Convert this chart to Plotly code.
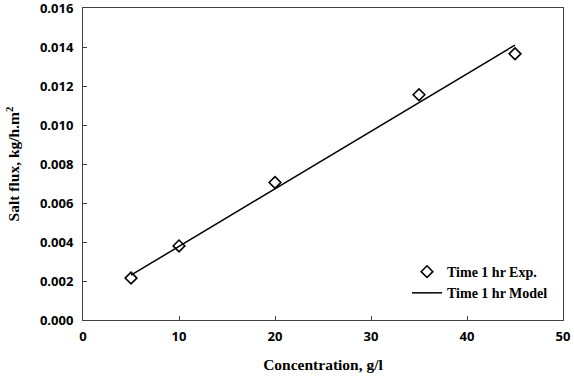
import plotly.graph_objects as go

conc = [5, 10, 20, 35, 45]
flux_exp = [0.00215, 0.0038, 0.00705, 0.01155, 0.01365]
model_x = [5, 45]
model_y = [0.0023, 0.0141]

fig = go.Figure()
fig.add_trace(go.Scatter(x=conc, y=flux_exp, mode="markers", name="Time 1 hr Exp.",
                         marker=dict(symbol="diamond-open", size=9, color="black", line=dict(width=1.6))))
fig.add_trace(go.Scatter(x=model_x, y=model_y, mode="lines", name="Time 1 hr Model",
                         line=dict(color="black", width=1.5)))

axis_common = dict(showgrid=False, zeroline=False, showline=True, mirror=True,
                   linecolor="#404040", linewidth=1, ticks="inside", ticklen=4,
                   tickcolor="#404040", automargin=False, ticklabeloverflow="allow",
                   tickfont=dict(family="Open Sans", size=13, color="black", weight="bold"))
fig.update_xaxes(range=[0, 50], dtick=10, ticklabelstandoff=4, **axis_common,
                 title=dict(text="Concentration, g/l", standoff=15,
                            font=dict(family="Liberation Serif", size=15.5, color="black", weight="bold")))
fig.update_yaxes(range=[0, 0.016], dtick=0.002, tickformat=".3f", ticklabelstandoff=6, **axis_common,
                 title=dict(text="Salt flux, kg/h.m<sup>2</sup>", standoff=16,
                            font=dict(family="Liberation Serif", size=15.5, color="black", weight="bold")))
fig.update_layout(width=574, height=382, margin=dict(l=83, r=11, t=8, b=62),
                  plot_bgcolor="white", paper_bgcolor="white",
                  legend=dict(x=0.675, y=0.205, xanchor="left", yanchor="top",
                              bgcolor="rgba(0,0,0,0)",
                              font=dict(family="Liberation Serif", size=14, color="black", weight="bold")))
fig.write_html("out.html", config={"displayModeBar": False},
               post_script="document.body.style.margin='0';document.body.style.overflow='hidden';")
